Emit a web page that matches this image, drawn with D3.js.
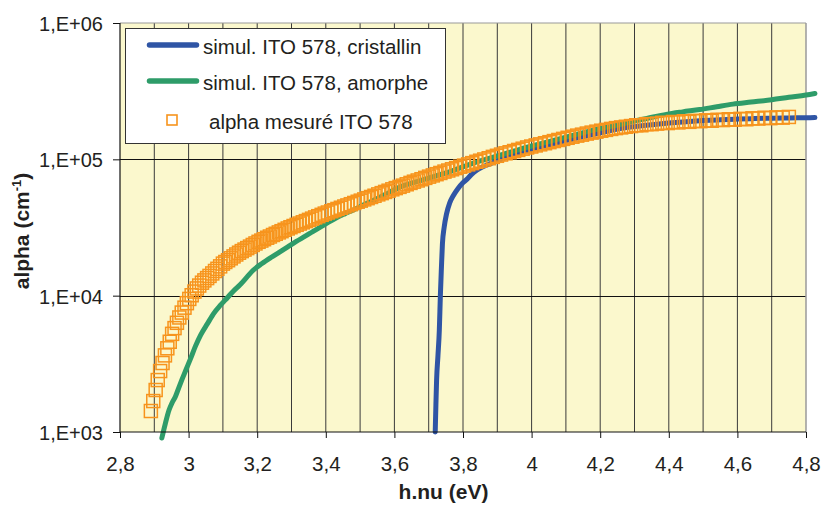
<!DOCTYPE html>
<html><head><meta charset="utf-8">
<script src="https://cdn.jsdelivr.net/npm/d3@7"></script>
<style>
body{margin:0;background:#fff;}
svg{display:block;font-family:"Liberation Sans",Arial,sans-serif;}
</style>
</head><body>
<svg id="chart" width="822" height="506"></svg>
<script>
// ---------- DATA ----------
const seriesNames = ["simul. ITO 578, cristallin", "simul. ITO 578, amorphe", "alpha mesuré ITO 578"];
const xTickValues = [2.8, 3.0, 3.2, 3.4, 3.6, 3.8, 4.0, 4.2, 4.4, 4.6, 4.8];
const xTickLabels = ["2,8", "3", "3,2", "3,4", "3,6", "3,8", "4", "4,2", "4,4", "4,6", "4,8"];
const yTickValues = [1e3, 1e4, 1e5, 1e6];
const yTickLabels = ["1,E+03", "1,E+04", "1,E+05", "1,E+06"];
const xTitle = "h.nu (eV)";

// simulated crystalline (energy eV, log10 alpha)
const cristE = [3.719,3.721,3.723,3.727,3.731,3.734,3.737,3.740,3.745,3.752,3.761,3.772,3.785,3.799,3.811,3.825,3.840,3.855,3.870,3.900,3.950,4.000,4.050,4.100,4.150,4.200,4.250,4.300,4.350,4.400,4.450,4.500,4.550,4.600,4.650,4.700,4.750,4.800,4.826];
const cristLog = [3.000,3.200,3.380,3.560,3.748,4.000,4.200,4.380,4.500,4.600,4.679,4.735,4.785,4.826,4.853,4.890,4.921,4.942,4.958,4.990,5.035,5.075,5.105,5.137,5.166,5.194,5.222,5.240,5.254,5.266,5.276,5.284,5.290,5.295,5.299,5.302,5.304,5.305,5.306];

// simulated amorphous (energy eV, log10 alpha)
const amorE = [2.922,2.932,2.943,2.952,2.962,2.971,2.980,2.993,3.006,3.020,3.035,3.055,3.074,3.093,3.113,3.131,3.150,3.170,3.189,3.214,3.240,3.264,3.288,3.314,3.340,3.362,3.384,3.407,3.430,3.455,3.480,3.515,3.550,3.585,3.617,3.650,3.700,3.750,3.800,3.850,3.900,3.950,4.000,4.050,4.100,4.150,4.200,4.250,4.300,4.336,4.393,4.440,4.490,4.540,4.587,4.640,4.700,4.750,4.800,4.826];
const amorLog = [2.956,3.060,3.161,3.215,3.262,3.322,3.380,3.460,3.540,3.630,3.711,3.795,3.872,3.930,3.985,4.035,4.080,4.136,4.188,4.236,4.280,4.318,4.356,4.398,4.436,4.470,4.503,4.538,4.570,4.600,4.628,4.672,4.712,4.757,4.798,4.825,4.862,4.900,4.945,4.988,5.025,5.062,5.098,5.130,5.163,5.195,5.226,5.252,5.281,5.300,5.330,5.348,5.365,5.386,5.405,5.420,5.437,5.455,5.472,5.483];

// measured alpha (energy eV, log10 alpha)
const measE = [2.890,2.897,2.904,2.910,2.917,2.924,2.931,2.938,2.945,2.952,
2.959,2.966,2.973,2.980,2.988,2.995,3.002,3.009,3.017,3.024,
3.031,3.039,3.046,3.054,3.061,3.069,3.077,3.084,3.092,3.100,
3.107,3.115,3.123,3.131,3.139,3.147,3.155,3.163,3.171,3.179,
3.187,3.195,3.204,3.212,3.220,3.229,3.237,3.246,3.254,3.263,
3.271,3.280,3.289,3.297,3.306,3.315,3.324,3.333,3.342,3.351,
3.360,3.369,3.378,3.388,3.397,3.406,3.416,3.425,3.434,3.444,
3.454,3.463,3.473,3.483,3.493,3.502,3.512,3.522,3.532,3.542,
3.553,3.563,3.573,3.583,3.594,3.604,3.615,3.625,3.636,3.647,
3.657,3.668,3.679,3.690,3.701,3.712,3.723,3.734,3.746,3.757,
3.768,3.780,3.792,3.803,3.815,3.827,3.839,3.850,3.862,3.875,
3.887,3.899,3.911,3.924,3.936,3.949,3.961,3.974,3.987,3.999,
4.012,4.025,4.039,4.052,4.065,4.078,4.092,4.105,4.119,4.133,
4.147,4.161,4.175,4.189,4.203,4.217,4.232,4.246,4.261,4.275,
4.290,4.305,4.320,4.335,4.350,4.366,4.381,4.397,4.412,4.428,
4.444,4.460,4.476,4.492,4.509,4.525,4.542,4.558,4.575,4.592,
4.609,4.626,4.644,4.661,4.679,4.696,4.714,4.732,4.750];
const measLog = [3.154,3.227,3.308,3.381,3.447,3.506,3.562,3.614,3.662,3.720,
3.762,3.801,3.840,3.876,3.912,3.945,3.976,4.003,4.030,4.053,
4.074,4.095,4.112,4.129,4.145,4.163,4.181,4.197,4.215,4.235,
4.247,4.260,4.274,4.288,4.302,4.315,4.327,4.338,4.349,4.360,
4.372,4.383,4.395,4.404,4.414,4.425,4.434,4.445,4.454,4.464,
4.473,4.483,4.493,4.502,4.511,4.520,4.529,4.538,4.547,4.556,
4.565,4.574,4.583,4.593,4.602,4.610,4.619,4.627,4.636,4.645,
4.654,4.662,4.671,4.680,4.689,4.697,4.706,4.715,4.724,4.733,
4.743,4.752,4.761,4.770,4.780,4.789,4.798,4.807,4.817,4.827,
4.836,4.845,4.854,4.864,4.873,4.882,4.891,4.900,4.910,4.918,
4.927,4.936,4.946,4.954,4.963,4.972,4.982,4.990,4.999,5.008,
5.018,5.026,5.035,5.044,5.052,5.061,5.069,5.078,5.087,5.094,
5.102,5.110,5.118,5.126,5.134,5.142,5.150,5.158,5.166,5.174,
5.181,5.189,5.196,5.203,5.210,5.216,5.223,5.229,5.234,5.239,
5.244,5.250,5.250,5.258,5.258,5.262,5.268,5.266,5.274,5.271,
5.279,5.275,5.282,5.280,5.286,5.283,5.290,5.288,5.294,5.291,
5.297,5.294,5.301,5.299,5.305,5.302,5.308,5.306,5.311];

// ---------- CHART ----------
const colors = {blue:"#2F55A5", green:"#2E9C69", orange:"#F7941D", bg:"#FBF8CD", text:"#231F20"};
const svg = d3.select("#chart");
const x = d3.scaleLinear().domain([2.8, 4.8]).range([120, 806]);
const y = d3.scaleLog().domain([1e3, 1e6]).range([432, 23]);

// plot background
svg.append("rect").attr("x", x(2.8)).attr("y", y(1e6))
  .attr("width", x(4.8) - x(2.8)).attr("height", y(1e3) - y(1e6)).attr("fill", colors.bg);

// vertical gridlines every 0.1
const vGrid = x.ticks(20).filter(v => v > 2.81 && v < 4.79);
svg.append("g").selectAll("line").data(vGrid).join("line")
  .attr("x1", d => x(d)).attr("x2", d => x(d)).attr("y1", y(1e6)).attr("y2", y(1e3))
  .attr("stroke", "#3a3a3a").attr("stroke-width", 1);
// horizontal gridlines
svg.append("g").selectAll("line").data([1e4, 1e5]).join("line")
  .attr("x1", x(2.8)).attr("x2", x(4.8)).attr("y1", d => Math.round(y(d)) + 0.5).attr("y2", d => Math.round(y(d)) + 0.5)
  .attr("stroke", "#111").attr("stroke-width", 1);
// top & right border (gray)
svg.append("line").attr("x1", x(2.8)).attr("x2", x(4.8)).attr("y1", y(1e6)).attr("y2", y(1e6))
  .attr("stroke", "#9a9a9a").attr("stroke-width", 1.2);
svg.append("line").attr("x1", x(4.8)).attr("x2", x(4.8)).attr("y1", y(1e6)).attr("y2", y(1e3))
  .attr("stroke", "#9a9a9a").attr("stroke-width", 1.5);

// series
const toPts = (E, L) => E.map((e, i) => [e, Math.pow(10, L[i])]);
const line = d3.line().x(d => x(d[0])).y(d => y(d[1])).curve(d3.curveMonotoneX);
svg.append("path").datum(toPts(cristE, cristLog)).attr("d", line)
  .attr("fill", "none").attr("stroke", colors.blue).attr("stroke-width", 5).attr("stroke-linejoin", "round").attr("stroke-linecap", "round");
svg.append("path").datum(toPts(amorE, amorLog)).attr("d", line)
  .attr("fill", "none").attr("stroke", colors.green).attr("stroke-width", 5).attr("stroke-linejoin", "round").attr("stroke-linecap", "round");
const sq = 13;
svg.append("g").selectAll("rect").data(toPts(measE, measLog)).join("rect")
  .attr("x", d => x(d[0]) - sq / 2).attr("y", d => y(d[1]) - sq / 2)
  .attr("width", sq).attr("height", sq)
  .attr("fill", "none").attr("stroke", colors.orange).attr("stroke-width", 1.5);

// axes
const yAxis = d3.axisLeft(y).tickValues(yTickValues).tickFormat((d, i) => yTickLabels[i]).tickSize(7).tickPadding(10);
const gy = svg.append("g").attr("transform", `translate(${x(2.8)},0)`).call(yAxis);
gy.select(".domain").remove();
gy.selectAll(".tick line").attr("stroke", "#111");
gy.selectAll("text").attr("font-size", 20).attr("fill", colors.text).attr("font-family", "Liberation Sans, Arial, sans-serif").attr("dy", "0.38em");

const xAxis = d3.axisBottom(x).tickValues(xTickValues).tickFormat((d, i) => xTickLabels[i]).tickSize(6).tickPadding(18);
const gx = svg.append("g").attr("transform", `translate(0,${y(1e3)})`).call(xAxis);
gx.select(".domain").remove();
gx.selectAll(".tick line").attr("stroke", "#111");
gx.selectAll("text").attr("font-size", 20.5).attr("fill", colors.text).attr("font-family", "Liberation Sans, Arial, sans-serif");

// axis lines
svg.append("line").attr("x1", x(2.8)).attr("x2", x(2.8)).attr("y1", y(1e6)).attr("y2", y(1e3)).attr("stroke", "#111").attr("stroke-width", 1.2);
svg.append("line").attr("x1", x(2.8)).attr("x2", x(4.8)).attr("y1", y(1e3)).attr("y2", y(1e3)).attr("stroke", "#111").attr("stroke-width", 1.2);

// axis titles
svg.append("text").attr("x", 443.5).attr("y", 499).attr("text-anchor", "middle")
  .attr("font-weight", "bold").attr("font-size", 21).attr("fill", colors.text).text(xTitle);
const yt = svg.append("text").attr("transform", "translate(29,231) rotate(-90)").attr("text-anchor", "middle")
  .attr("font-weight", "bold").attr("font-size", 21).attr("fill", colors.text);
yt.append("tspan").text("alpha (cm");
yt.append("tspan").attr("font-size", 13).attr("dy", -8).text("-1");
yt.append("tspan").attr("dy", 8).text(")");

// legend
const lg = svg.append("g");
lg.append("rect").attr("x", 125.5).attr("y", 28.5).attr("width", 320).attr("height", 115)
  .attr("fill", "#fff").attr("stroke", "#333").attr("stroke-width", 1);
const legendRows = [
  {name: seriesNames[0], type: "line", color: colors.blue, cy: 45, tx: 203},
  {name: seriesNames[1], type: "line", color: colors.green, cy: 81, tx: 203},
  {name: seriesNames[2], type: "square", color: colors.orange, cy: 120, tx: 209}
];
legendRows.forEach(r => {
  if (r.type === "line") {
    lg.append("line").attr("x1", 149.5).attr("x2", 196.5).attr("y1", r.cy).attr("y2", r.cy)
      .attr("stroke", r.color).attr("stroke-width", 5.5).attr("stroke-linecap", "round");
  } else {
    lg.append("rect").attr("x", 172 - 5).attr("y", r.cy - 5).attr("width", 10).attr("height", 10)
      .attr("fill", "none").attr("stroke", r.color).attr("stroke-width", 1.6);
  }
  lg.append("text").attr("x", r.tx).attr("y", r.cy + 9).attr("font-size", 20.5).attr("fill", colors.text).text(r.name);
});
</script>
</body></html>
